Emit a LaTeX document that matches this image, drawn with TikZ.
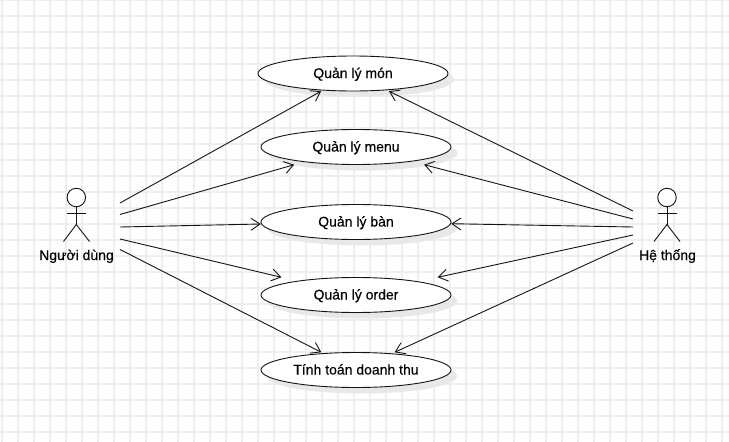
\documentclass[tikz,border=0pt]{standalone}
\usepackage{fontspec}
\setmainfont{Liberation Sans}[FakeBold=0.3]
\usetikzlibrary{arrows.meta,shapes.geometric}
\definecolor{gridc}{RGB}{238,238,238}
\definecolor{shadowc}{RGB}{232,232,232}
\definecolor{inkc}{RGB}{20,20,20}
\tikzset{
  x=1pt,y=-1pt,
  gridline/.style={draw=gridc,line width=1.5pt},
  usecase/.style={ellipse,draw=inkc,fill=white,line width=0.9pt,minimum width=190pt,minimum height=35pt,inner sep=0pt,text height=11pt,text depth=2pt,font=\fontsize{14}{16}\selectfont},
  caseshadow/.style={ellipse,fill=shadowc,minimum width=190pt,minimum height=35pt,inner sep=0pt},
  casebox/.style={rectangle,minimum width=190pt,minimum height=35pt,inner sep=0pt},
  actorhead/.style={circle,draw=inkc,fill=white,line width=0.9pt,minimum size=18.5pt,inner sep=0pt},
  actorline/.style={draw=inkc,line width=0.9pt},
  actorlabel/.style={font=\fontsize{14}{16}\selectfont,text=black,inner sep=0pt,anchor=base},
  assoc/.style={draw=inkc,line width=0.9pt,-{Straight Barb[length=9pt,width=12pt]}},
}
\begin{document}
\begin{tikzpicture}
\useasboundingbox (0,0) rectangle (729,442);
\fill[white] (0,0) rectangle (729,442);
\foreach \gx in {2,18,...,722} \draw[gridline] (\gx,0) -- (\gx,442);
\foreach \gy in {0,16,...,440} \draw[gridline] (0,\gy) -- (729,\gy);
% shadows
\foreach \cx/\cy in {353/73.5,356.5/147,356/222,356/295,356/370}
  \node[caseshadow] at (\cx+6,\cy+6) {};
% use cases
\node[usecase] (mon) at (353,73.5) {Quản lý món};
\node[usecase] (menu) at (356,147) {Quản lý menu};
\node[usecase] (ban) at (356,222) {Quản lý bàn};
\node[usecase] (order) at (356,295) {Quản lý order};
\node[usecase] (doanhthu) at (356,370) {Tính toán doanh thu};
\node[casebox] (monbox) at (mon) {};
\node[casebox] (menubox) at (menu) {};
\node[casebox] (banbox) at (ban) {};
\node[casebox] (orderbox) at (order) {};
\node[casebox] (doanhthubox) at (doanhthu) {};
% left actor
\node[actorhead] (nguoihead) at (76.3,197.5) {};
\coordinate (nguoihip) at (76.3,224.5);
\coordinate (nguoiarml) at (67,213);
\coordinate (nguoiarmr) at (86,213);
\coordinate (nguoilegl) at (63.5,241.5);
\coordinate (nguoilegr) at (89.5,241.5);
\draw[actorline] (nguoihead) -- (nguoihip);
\draw[actorline] (nguoiarml) -- (nguoiarmr);
\draw[actorline] (nguoilegl) -- (nguoihip) -- (nguoilegr);
\node[actorlabel] (nguoi) at (76.5,260) {Người dùng};
% right actor
\node[actorhead] (hethonghead) at (667,197.5) {};
\coordinate (hethonghip) at (667,224.5);
\coordinate (hethongarml) at (658,213);
\coordinate (hethongarmr) at (677,213);
\coordinate (hethonglegl) at (654,241.5);
\coordinate (hethonglegr) at (680,241.5);
\draw[actorline] (hethonghead) -- (hethonghip);
\draw[actorline] (hethongarml) -- (hethongarmr);
\draw[actorline] (hethonglegl) -- (hethonghip) -- (hethonglegr);
\node[actorlabel] (hethong) at (667.5,260) {Hệ thống};
% connector starts
\coordinate (l1) at (120,203);
\coordinate (l2) at (120,214.5);
\coordinate (l3) at (120,227);
\coordinate (l4) at (120,239);
\coordinate (l5) at (120,249.5);
\coordinate (r1) at (633,211);
\coordinate (r2) at (633,219);
\coordinate (r3) at (633,227);
\coordinate (r4) at (633,235);
\coordinate (r5) at (633,243);
\draw[assoc] (l1) -- (monbox);
\draw[assoc] (l2) -- (menubox);
\draw[assoc] (l3) -- (banbox);
\draw[assoc] (l4) -- (orderbox);
\draw[assoc] (l5) -- (doanhthubox);
\draw[assoc] (r1) -- (monbox);
\draw[assoc] (r2) -- (menubox);
\draw[assoc] (r3) -- (banbox);
\draw[assoc] (r4) -- (orderbox);
\draw[assoc] (r5) -- (doanhthubox);
\end{tikzpicture}
\end{document}
